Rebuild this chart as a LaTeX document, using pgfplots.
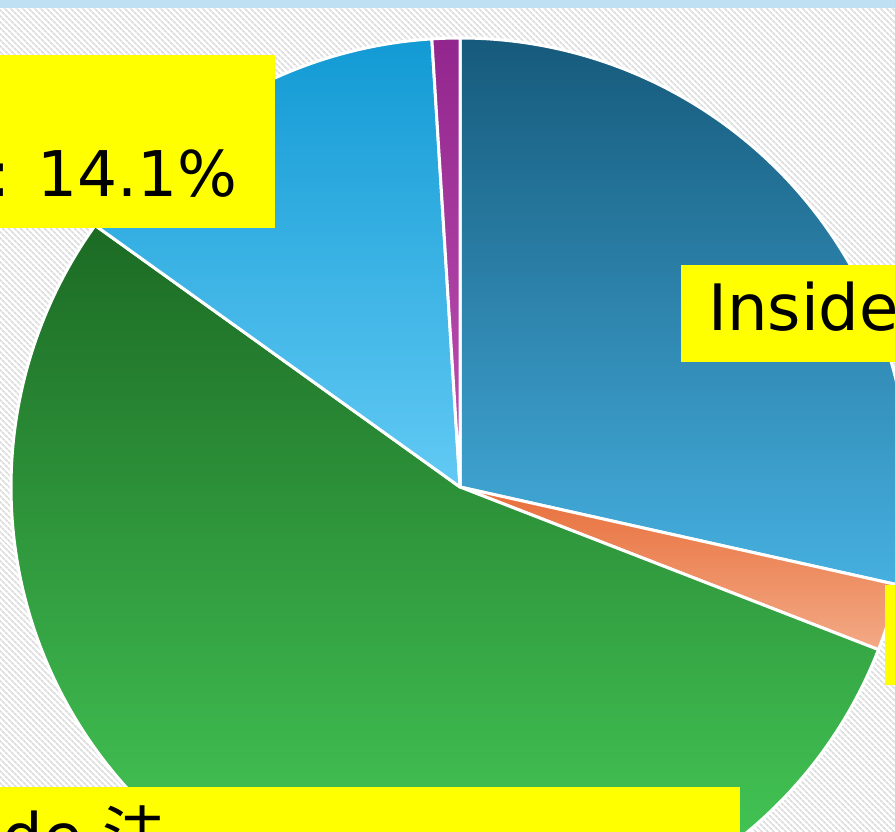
\documentclass[border=0pt]{standalone}
\usepackage{pgfplots}
\pgfplotsset{compat=1.18}
\usepackage{pgfplotstable}
\usepackage{fontspec}
\setmainfont{DejaVu Sans}
\newfontfamily\jpfont{Noto Sans CJK JP}
\usetikzlibrary{patterns.meta}

\definecolor{bgblue}{RGB}{190,224,242}
\definecolor{labyellow}{RGB}{255,255,0}
\definecolor{dbTop}{RGB}{22,90,124}
\definecolor{dbBot}{RGB}{70,176,224}
\definecolor{orTop}{RGB}{232,110,58}
\definecolor{orBot}{RGB}{243,170,134}
\definecolor{grTop}{RGB}{28,106,36}
\definecolor{grBot}{RGB}{76,218,96}
\definecolor{lbTop}{RGB}{18,154,212}
\definecolor{lbBot}{RGB}{98,202,244}
\definecolor{puTop}{RGB}{146,38,142}
\definecolor{puBot}{RGB}{192,82,178}

% shares in percent, clockwise from 12 o'clock
\pgfplotstableread{
share
28.5
2.4
54.0
14.1
1.0
}\piedata

\pgfplotstablegetelem{0}{share}\of\piedata \pgfmathsetmacro{\aA}{90-3.6*\pgfplotsretval}
\pgfplotstablegetelem{1}{share}\of\piedata \pgfmathsetmacro{\aB}{\aA-3.6*\pgfplotsretval}
\pgfplotstablegetelem{2}{share}\of\piedata \pgfmathsetmacro{\aC}{\aB-3.6*\pgfplotsretval}
\pgfplotstablegetelem{3}{share}\of\piedata \pgfmathsetmacro{\aD}{\aC-3.6*\pgfplotsretval}
\pgfplotstablegetelem{4}{share}\of\piedata \pgfmathsetmacro{\aE}{\aD-3.6*\pgfplotsretval}

\newcommand{\slice}[4]{%
  \path[top color=#3, bottom color=#4, draw=white, line width=3pt, line join=round]
    (axis cs:460,344) -- ++(#1:449pt) arc[start angle=#1, end angle=#2, radius=449pt] -- cycle;}

\begin{document}
\begin{tikzpicture}
\begin{axis}[x=1pt, y=1pt, xmin=0, xmax=895, ymin=0, ymax=831,
  axis lines=none, ticks=none, clip=true]
\begin{scope}
\clip (axis cs:0,0) rectangle (axis cs:895,831);
\fill[white] (axis cs:0,0) rectangle (axis cs:895,831);
\fill[pattern={Lines[angle=-45, distance=4pt, line width=2pt]}, pattern color=black!13]
  (axis cs:0,0) rectangle (axis cs:895,831);
\fill[bgblue] (axis cs:0,823) rectangle (axis cs:895,831);

\slice{90}{\aA}{dbTop}{dbBot}
\slice{\aA}{\aB}{orTop}{orBot}
\slice{\aB}{\aC}{grTop}{grBot}
\slice{\aC}{\aD}{lbTop}{lbBot}
\slice{\aD}{\aE}{puTop}{puBot}

% label boxes
\fill[labyellow] (axis cs:-10,603) rectangle (axis cs:275,776);
\fill[labyellow] (axis cs:681,469) rectangle (axis cs:910,566);
\fill[labyellow] (axis cs:885,146) rectangle (axis cs:910,246);
\fill[labyellow] (axis cs:-10,-20) rectangle (axis cs:740,44);

\node[anchor=base east, inner sep=0pt, font=\fontsize{63pt}{75pt}\selectfont] at (axis cs:238,634) {: 14.1\%};
\node[anchor=base west, inner sep=0pt, font=\fontsize{64pt}{76pt}\selectfont] at (axis cs:708,500) {Inside};
\node[anchor=base east, inner sep=0pt, font=\fontsize{64pt}{76pt}\selectfont] at (axis cs:167,-28) {Outside {\jpfont 法}};
\end{scope}
\end{axis}
\pgfresetboundingbox
\useasboundingbox (current axis.south west) rectangle (current axis.north east);
\end{tikzpicture}
\end{document}
